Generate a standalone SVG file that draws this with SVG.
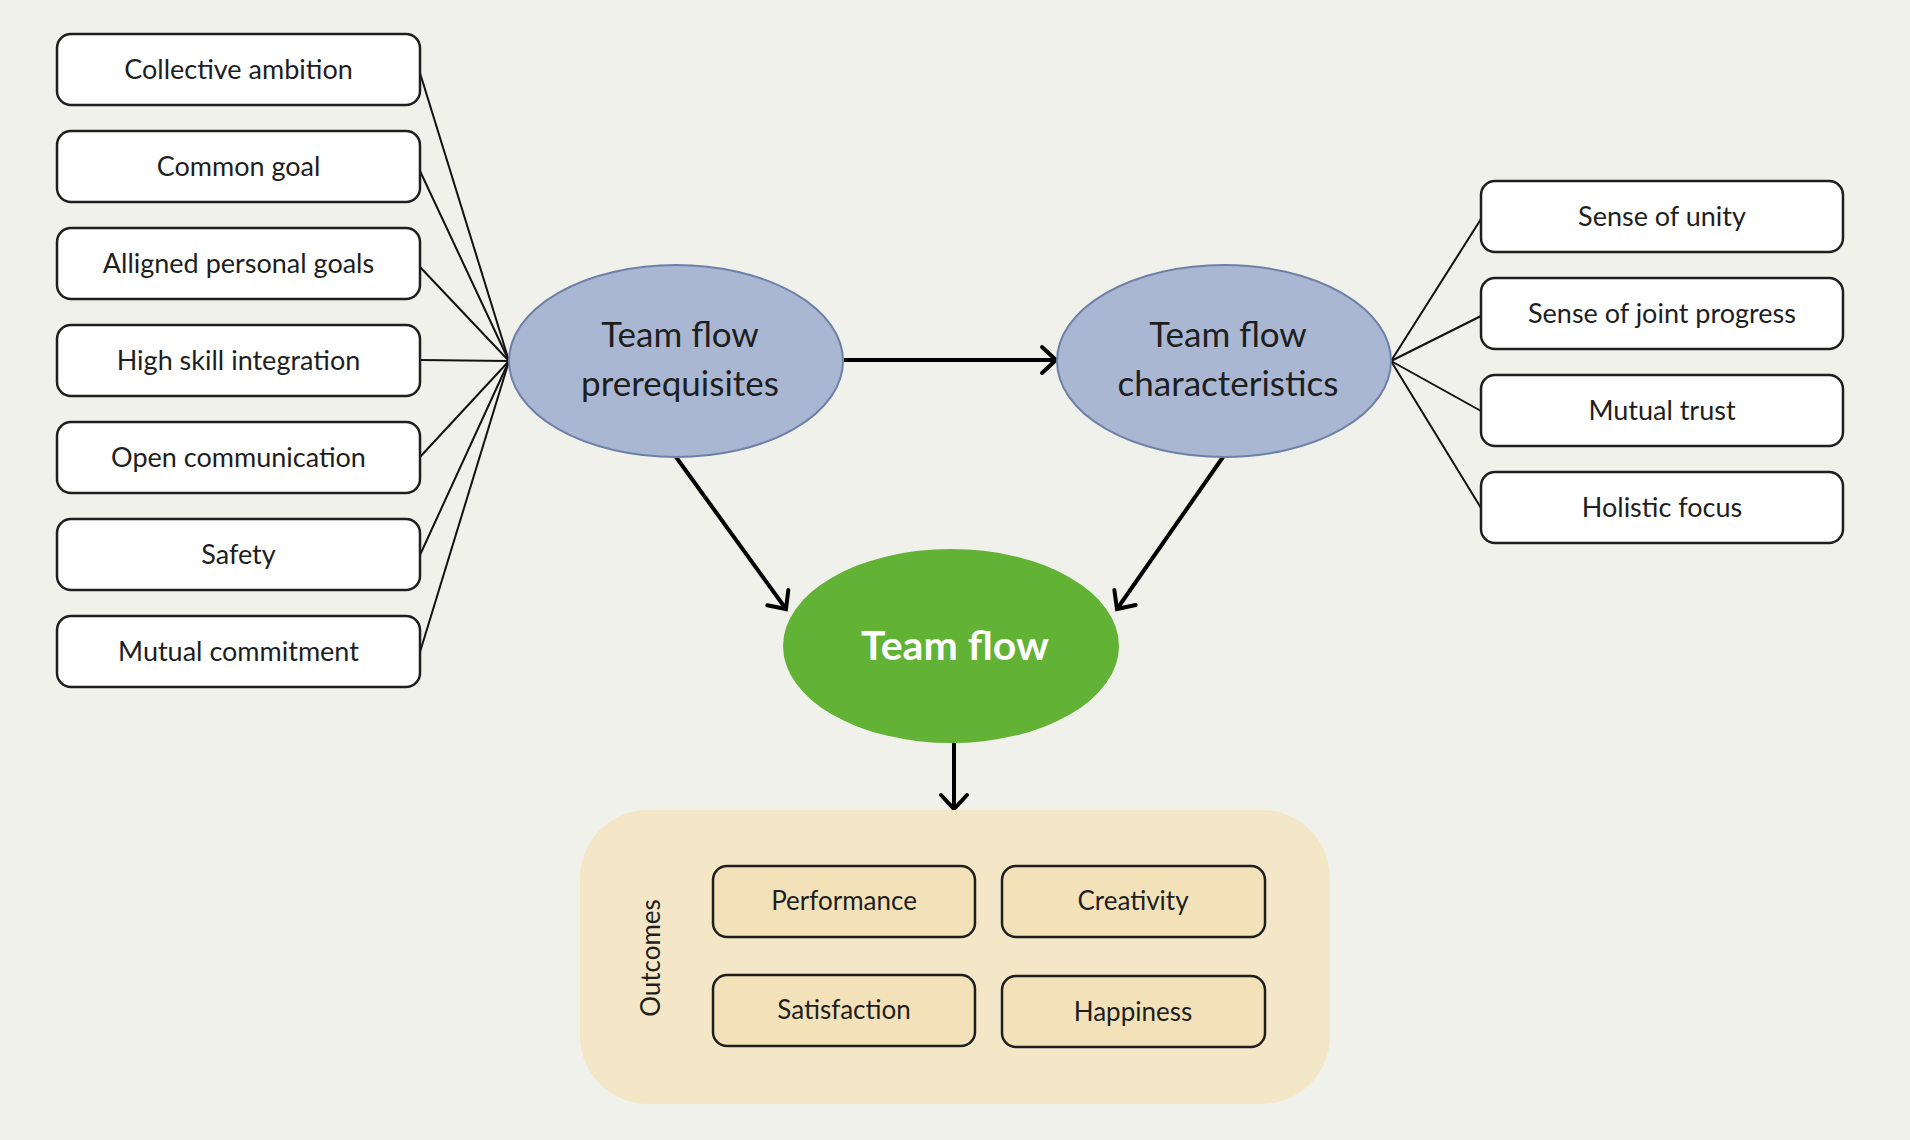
<svg xmlns="http://www.w3.org/2000/svg" width="1910" height="1140" viewBox="0 0 1910 1140">
<style>
.bg{fill:#f1f1ec}
.box{fill:#ffffff;stroke:#1e1e1e;stroke-width:2.5}
.obox{fill:#f3e2b9;stroke:#1e1e1e;stroke-width:2.5}
.lbl{font-family:Lato,"Liberation Sans",sans-serif;font-size:27px;fill:#1e1e1e;text-anchor:middle}
.olbl{font-family:Lato,"Liberation Sans",sans-serif;font-size:26px;fill:#1e1e1e;text-anchor:middle}
.ell{fill:#a9b7d2;stroke:#6f80a8;stroke-width:2}
.etxt{font-family:Lato,"Liberation Sans",sans-serif;font-size:35px;fill:#1e1e1e;text-anchor:middle}
.thin{stroke:#111;stroke-width:2;fill:none}
.thick{stroke:#000;stroke-width:4;fill:none}
</style>
<defs>
<marker id="chev" markerUnits="userSpaceOnUse" markerWidth="40" markerHeight="40" viewBox="-20 -20 40 40" refX="0" refY="0" orient="auto">
<path d="M -14 -13 L 0 0 L -14 13" fill="none" stroke="#000" stroke-width="4" stroke-linecap="round" stroke-linejoin="miter"/>
</marker>
</defs>
<rect class="bg" x="0" y="0" width="1910" height="1140"/>

<g id="connectors">
<line class="thin" x1="420" y1="73" x2="509" y2="361"/>
<line class="thin" x1="420" y1="171" x2="509" y2="361"/>
<line class="thin" x1="420" y1="267" x2="509" y2="361"/>
<line class="thin" x1="420" y1="360" x2="509" y2="361"/>
<line class="thin" x1="420" y1="457" x2="509" y2="361"/>
<line class="thin" x1="420" y1="555" x2="509" y2="361"/>
<line class="thin" x1="420" y1="652" x2="509" y2="361"/>
<line class="thin" x1="1391" y1="361" x2="1481" y2="219"/>
<line class="thin" x1="1391" y1="361" x2="1481" y2="316"/>
<line class="thin" x1="1391" y1="361" x2="1481" y2="411"/>
<line class="thin" x1="1391" y1="361" x2="1481" y2="508"/>
<line class="thick" x1="844" y1="360" x2="1056" y2="360" marker-end="url(#chev)"/>
<line class="thick" x1="676" y1="457" x2="786" y2="609" marker-end="url(#chev)"/>
<line class="thick" x1="1223" y1="457" x2="1117" y2="609" marker-end="url(#chev)"/>
<line class="thick" x1="954" y1="743" x2="954" y2="809" marker-end="url(#chev)"/>
</g>

<g id="n-collective"><rect class="box" x="57" y="34" width="363" height="71" rx="14"/><text class="lbl" x="238.5" y="79">Collective ambition</text></g>
<g id="n-common"><rect class="box" x="57" y="131" width="363" height="71" rx="14"/><text class="lbl" x="238.5" y="176">Common goal</text></g>
<g id="n-alligned"><rect class="box" x="57" y="228" width="363" height="71" rx="14"/><text class="lbl" x="238.5" y="273">Alligned personal goals</text></g>
<g id="n-skill"><rect class="box" x="57" y="325" width="363" height="71" rx="14"/><text class="lbl" x="238.5" y="370">High skill integration</text></g>
<g id="n-open"><rect class="box" x="57" y="422" width="363" height="71" rx="14"/><text class="lbl" x="238.5" y="467">Open communication</text></g>
<g id="n-safety"><rect class="box" x="57" y="519" width="363" height="71" rx="14"/><text class="lbl" x="238.5" y="564">Safety</text></g>
<g id="n-mutualc"><rect class="box" x="57" y="616" width="363" height="71" rx="14"/><text class="lbl" x="238.5" y="661">Mutual commitment</text></g>

<g id="n-unity"><rect class="box" x="1481" y="181" width="362" height="71" rx="14"/><text class="lbl" x="1662" y="226">Sense of unity</text></g>
<g id="n-joint"><rect class="box" x="1481" y="278" width="362" height="71" rx="14"/><text class="lbl" x="1662" y="323">Sense of joint progress</text></g>
<g id="n-trust"><rect class="box" x="1481" y="375" width="362" height="71" rx="14"/><text class="lbl" x="1662" y="420">Mutual trust</text></g>
<g id="n-holistic"><rect class="box" x="1481" y="472" width="362" height="71" rx="14"/><text class="lbl" x="1662" y="517">Holistic focus</text></g>

<g id="n-prereq"><ellipse class="ell" cx="676" cy="361" rx="167" ry="96"/><text class="etxt" x="680" y="347">Team flow</text><text class="etxt" x="680" y="396">prerequisites</text></g>
<g id="n-char"><ellipse class="ell" cx="1224" cy="361" rx="167" ry="96"/><text class="etxt" x="1228" y="347">Team flow</text><text class="etxt" x="1228" y="396">characteristics</text></g>

<g id="n-teamflow"><ellipse cx="951" cy="646" rx="168" ry="97" fill="#62b236"/><text x="955" y="660" font-family="Lato,'Liberation Sans',sans-serif" font-size="41" font-weight="bold" fill="#ffffff" text-anchor="middle">Team flow</text></g>

<g id="n-outcomes">
<rect x="580" y="810" width="750" height="294" rx="68" fill="#f3e7c8"/>
<text class="olbl" transform="translate(660 958) rotate(-90)" font-size="27">Outcomes</text>
<g id="n-performance"><rect class="obox" x="713" y="866" width="262" height="71" rx="14"/><text class="olbl" x="844" y="910">Performance</text></g>
<g id="n-creativity"><rect class="obox" x="1002" y="866" width="263" height="71" rx="14"/><text class="olbl" x="1133" y="910">Creativity</text></g>
<g id="n-satisfaction"><rect class="obox" x="713" y="975" width="262" height="71" rx="14"/><text class="olbl" x="844" y="1019">Satisfaction</text></g>
<g id="n-happiness"><rect class="obox" x="1002" y="976" width="263" height="71" rx="14"/><text class="olbl" x="1133" y="1021">Happiness</text></g>
</g>
</svg>
